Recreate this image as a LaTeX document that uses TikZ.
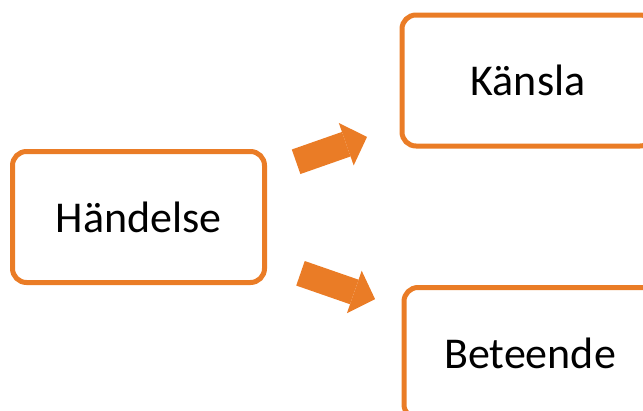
\documentclass[tikz,border=0pt]{standalone}
\usepackage{fontspec}
\setmainfont{Carlito}
\usetikzlibrary{arrows.meta}

\definecolor{accent}{RGB}{234,124,38}

\begin{document}
\begin{tikzpicture}[
    x=1pt, y=-1pt,
    box/.style={
        draw=accent,
        line width=5pt,
        rounded corners=14pt,
        minimum width=252pt,
        minimum height=131pt,
        align=center,
        font=\fontsize{44}{50}\selectfont
    },
    bigarrow/.style={
        -{Triangle[length=22pt, width=45pt, line width=0pt]},
        draw=accent,
        line width=26pt
    }
]
\useasboundingbox (0,0) rectangle (643,410);

\node[box] (handelse) at (138.5,217) {Händelse};
\node[box] (kansla) at (528,80.5) {Känsla};
\node[box] (beteende) at (530,353) {Beteende};

\draw[bigarrow, shorten <=167pt, shorten >=170.6pt] (handelse.center) -- (kansla.center);
\draw[bigarrow, shorten <=171.5pt, shorten >=164pt] (handelse.center) -- (beteende.center);
\end{tikzpicture}
\end{document}
